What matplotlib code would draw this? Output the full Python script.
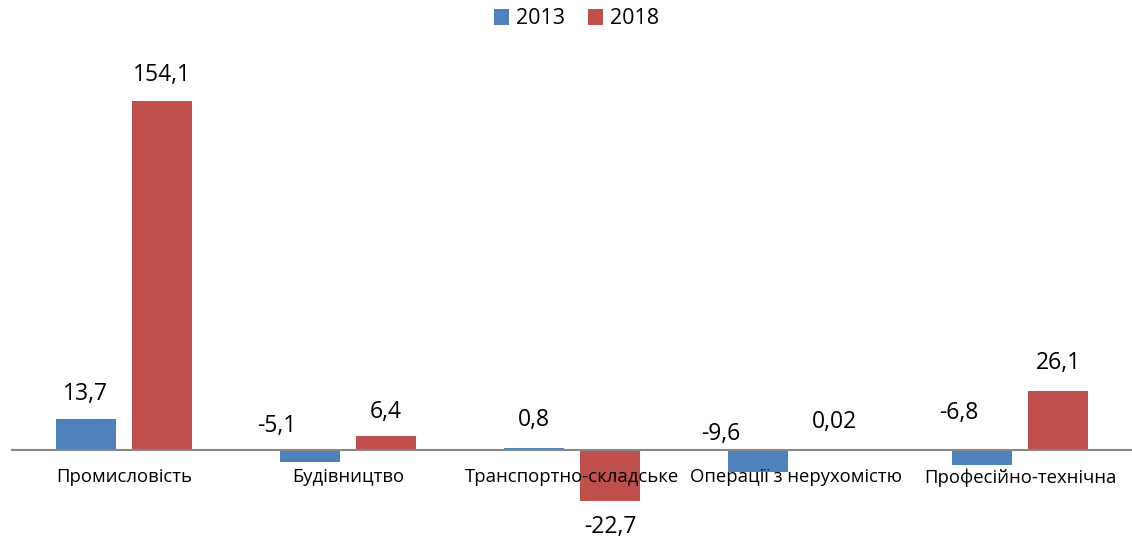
import numpy as np
import matplotlib.pyplot as plt

categories = ["Промисловість", "Будівництво", "Транспортно-складське",
              "Операції з нерухомістю", "Професійно-технічна"]
series_names = ["2013", "2018"]
values_2013 = [13.7, -5.1, 0.8, -9.6, -6.8]
values_2018 = [154.1, 6.4, -22.7, 0.02, 26.1]
labels_2013 = ["13,7", "-5,1", "0,8", "-9,6", "-6,8"]
labels_2018 = ["154,1", "6,4", "-22,7", "0,02", "26,1"]

colors = ["#4F81BD", "#C0504D"]

# label offsets (pixels) from bar end, as placed in the original
offsets_2013 = [(0, 25), (-33, 36), (0, 28), (-37, 38), (-23, 52)]
offsets_2018 = [(0, 26), (0, 24), (0, -26), (0, 28), (0, 28)]

plt.rcParams["font.family"] = ["Open Sans", "DejaVu Sans"]

W, H = 1132, 542
fig = plt.figure(figsize=(W / 100, H / 100), dpi=100)
ax = fig.add_axes([12 / W, 0, 1120 / W, 1])

px_per_unit = 2.265
ax.set_ylim(-92 / px_per_unit, 450 / px_per_unit)
ax.set_xlim(-0.5, len(categories) - 0.5)

x = np.arange(len(categories))
bw = 0.265
shift = 0.17

bars = []
for vals, col, name, sgn in [(values_2013, colors[0], series_names[0], -1),
                             (values_2018, colors[1], series_names[1], 1)]:
    b = ax.bar(x + sgn * shift, vals, width=bw, color=col, label=name, zorder=2)
    bars.append(b)

for b, vals, labs, offs in [(bars[0], values_2013, labels_2013, offsets_2013),
                            (bars[1], values_2018, labels_2018, offsets_2018)]:
    for rect, v, lab, (dx, dy) in zip(b, vals, labs, offs):
        xc = rect.get_x() + rect.get_width() / 2
        ax.annotate(lab, (xc, v), xytext=(dx, dy), textcoords="offset pixels",
                    ha="center", va="center", fontsize=16.5, color="black")

for s in ["top", "right", "left"]:
    ax.spines[s].set_visible(False)
ax.spines["bottom"].set_position(("data", 0))
ax.spines["bottom"].set_color("#898989")
ax.spines["bottom"].set_linewidth(1.5)
ax.spines["bottom"].set_zorder(3)
ax.set_axisbelow(False)
ax.set_yticks([])
ax.set_xticks(x)
ax.set_xticklabels(categories, fontsize=13.3)
ax.tick_params(axis="x", length=0, pad=13)

fig.legend(loc="center", bbox_to_anchor=(576.5 / W, 1 - 19 / H), ncol=2, frameon=False,
           fontsize=15.5, handlelength=0.7, handleheight=0.7, handletextpad=0.3,
           columnspacing=1.1, borderpad=0)

fig.savefig("out.png", dpi=100)
